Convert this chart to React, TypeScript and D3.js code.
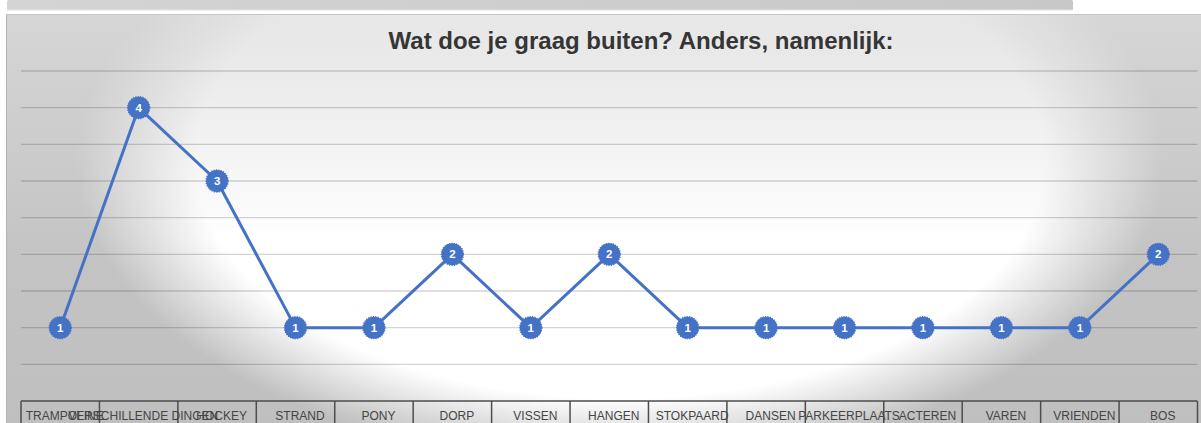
import * as d3 from 'd3';

const categories = [
  'TRAMPOLINE',
  'VERSCHILLENDE DINGEN',
  'HOCKEY',
  'STRAND',
  'PONY',
  'DORP',
  'VISSEN',
  'HANGEN',
  'STOKPAARD',
  'DANSEN',
  'PARKEERPLAATS',
  'ACTEREN',
  'VAREN',
  'VRIENDEN',
  'BOS',
];
const counts = [1, 4, 3, 1, 1, 2, 1, 2, 1, 1, 1, 1, 1, 1, 2];
const title = 'Wat doe je graag buiten? Anders, namenlijk:';

const W = 1201;
const H = 423;
const font = "'Liberation Sans', Arial, Helvetica, sans-serif";
const blue = '#4472c4';

const App = () => {
  const x = d3.scaleBand().domain(categories).range([21, 1197.5]).padding(0);
  const y = d3.scaleLinear().domain([0, 4.5]).range([401, 71]);
  const grid = y.ticks(9).filter(t => t > 0);

  const points = categories.map((c, i) => ({
    c,
    v: counts[i],
    cx: (x(c) ?? 0) + x.bandwidth() / 2,
  }));

  const line = d3
    .line<{ cx: number; v: number }>()
    .x(d => d.cx)
    .y(d => y(d.v));

  return (
    <svg
      width={W}
      height={H}
      style={{ position: 'absolute', left: 0, top: 0, background: '#fff' }}
    >
      <defs>
        <linearGradient id="strip" x1="0" y1="0" x2="1" y2="0">
          <stop offset="0" stopColor="#d4d4d4" />
          <stop offset="1" stopColor="#c8c8c8" />
        </linearGradient>
        <linearGradient id="base" x1="0" y1="0" x2="0" y2="1">
          <stop offset="0" stopColor="#d6d6d6" />
          <stop offset="0.6" stopColor="#c3c3c3" />
          <stop offset="1" stopColor="#bfbfbf" />
        </linearGradient>
        <radialGradient
          id="spot"
          gradientUnits="userSpaceOnUse"
          cx={620}
          cy={160}
          r={545}
          gradientTransform="translate(620,160) scale(1,0.56) translate(-620,-160)"
        >
          <stop offset="0" stopColor="#fff" stopOpacity={1} />
          <stop offset="0.78" stopColor="#fff" stopOpacity={1} />
          <stop offset="1" stopColor="#fff" stopOpacity={0} />
        </radialGradient>
        <linearGradient id="fadeTop" x1="0" y1="0" x2="0" y2="1">
          <stop offset="0" stopColor="#fff" stopOpacity={0.4} />
          <stop offset="0.55" stopColor="#fff" stopOpacity={1} />
        </linearGradient>
        <mask id="spotMask" maskUnits="userSpaceOnUse" x={0} y={0} width={W} height={H}>
          <rect x={0} y={14} width={W} height={H - 14} fill="url(#fadeTop)" />
        </mask>
      </defs>

      {/* strip of the element above */}
      <rect x={7} y={0} width={1066} height={10} rx={1.5} fill="url(#strip)" />
      <line x1={7} x2={1073} y1={10} y2={10} stroke="#e4e4e4" />

      {/* chart panel */}
      <rect x={6} y={14} width={W} height={H} fill="url(#base)" />
      <rect x={6} y={14} width={W} height={H} fill="url(#spot)" mask="url(#spotMask)" />
      <line x1={6.5} x2={6.5} y1={14} y2={H} stroke="#b4b4b4" />
      <line x1={6} x2={W} y1={14.5} y2={14.5} stroke="#c8c8c8" />

      <text
        x={641}
        y={49}
        textAnchor="middle"
        fontFamily={font}
        fontWeight="bold"
        fontSize={24}
        fill="#353535"
      >
        {title}
      </text>

      {grid.map(t => (
        <line
          key={t}
          x1={21}
          x2={1197.5}
          y1={y(t)}
          y2={y(t)}
          stroke="#000"
          strokeOpacity={0.17}
          strokeWidth={1.3}
        />
      ))}

      {/* category boxes */}
      <g stroke="#4d4d4d" strokeWidth={1.5} fill="none">
        <line x1={21} x2={1197.5} y1={y(0)} y2={y(0)} />
        {categories.map(c => (
          <line key={c} x1={x(c)} x2={x(c)} y1={y(0)} y2={H} />
        ))}
        <line x1={1197.5} x2={1197.5} y1={y(0)} y2={H} />
      </g>
      {points.map(p => (
        <text
          key={p.c}
          x={p.cx + 4.5}
          y={420}
          textAnchor="middle"
          fontFamily={font}
          fontSize={12}
          fill="#454545"
        >
          {p.c}
        </text>
      ))}

      <path d={line(points) ?? ''} fill="none" stroke={blue} strokeWidth={3} strokeLinejoin="round" />

      {points.map(p => (
        <g key={p.c}>
          <circle
            cx={p.cx}
            cy={y(p.v)}
            r={11}
            fill={blue}
            stroke={blue}
            strokeWidth={1.4}
            strokeDasharray="1.2 1.2"
          />
          <text
            x={p.cx}
            y={y(p.v) + 4}
            textAnchor="middle"
            fontFamily={font}
            fontWeight="bold"
            fontSize={11.5}
            fill="#fff"
          >
            {p.v}
          </text>
        </g>
      ))}
    </svg>
  );
};

export default App;
